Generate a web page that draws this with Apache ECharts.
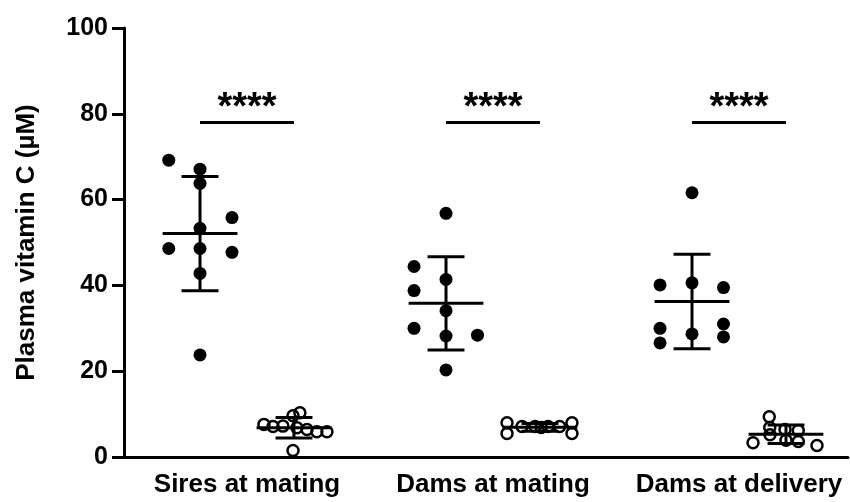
<!DOCTYPE html>
<html><head><meta charset="utf-8">
<script src="https://cdn.jsdelivr.net/npm/echarts@6/dist/echarts.min.js"></script>
<style>html,body{margin:0;padding:0;background:#fff}#c{width:850px;height:502px}</style>
</head><body><div id="c"></div>
<script>
// ---- data ----
const categories = ['Sires at mating', 'Dams at mating', 'Dams at delivery'];
const yTicks = [0, 20, 40, 60, 80, 100];
const sigLabel = '****';
const sigLevel = [78, 78, 78];

// filled circles (left column of each group)
const filledSires = [69.2, 67.1, 63.8, 55.8, 53.3, 48.6, 48.6, 47.7, 42.8, 23.8];
const filledDamsMating = [56.8, 44.4, 41.4, 38.8, 34.1, 30.0, 28.2, 28.4, 20.3];
const filledDamsDelivery = [61.6, 40.1, 40.6, 39.5, 30.0, 31.0, 28.7, 26.6, 28.0];
// open circles (right column of each group)
const openSires = [10.3, 9.6, 7.6, 7.1, 7.2, 6.8, 6.4, 5.9, 5.9, 1.5];
const openDamsMating = [8.0, 5.5, 7.1, 7.1, 7.1, 7.1, 8.0, 5.5, 6.9];
const openDamsDelivery = [9.4, 6.9, 6.4, 6.2, 5.2, 3.9, 3.6, 3.3, 2.7];

// horizontal scatter offsets of the points (fraction of group spacing)
const jitterFilledSires = [-0.127, 0, 0, 0.13, 0, -0.127, 0, 0.13, 0, 0];
const jitterFilledDamsMating = [0, -0.13, 0, -0.13, 0, -0.13, 0, 0.128, 0];
const jitterFilledDamsDelivery = [0, -0.13, 0, 0.128, -0.13, 0.128, 0, -0.13, 0.128];
const jitterOpenSires = [0.024, -0.004, -0.122, -0.085, -0.045, 0.012, 0.053, 0.093, 0.134, -0.004];
const jitterOpenDamsMating = [-0.134, -0.134, -0.073, -0.02, 0.033, 0.08, 0.13, 0.13, 0.005];
const jitterOpenDamsDelivery = [-0.068, -0.066, -0.004, 0.05, -0.065, 0.0, 0.05, -0.134, 0.126];

// ---- layout helpers ----
const colOffset = 0.191;   // column offset from group centre
const groupCentre = i => i + 0.5;
const filledSets = [filledSires, filledDamsMating, filledDamsDelivery];
const openSets = [openSires, openDamsMating, openDamsDelivery];
const filledJit = [jitterFilledSires, jitterFilledDamsMating, jitterFilledDamsDelivery];
const openJit = [jitterOpenSires, jitterOpenDamsMating, jitterOpenDamsDelivery];

function pts(sets, jits, side) {
  const out = [];
  sets.forEach((arr, g) => arr.forEach((v, k) => out.push([groupCentre(g) + side * colOffset + jits[g][k], v])));
  return out;
}
function meanSd(arr) {
  const m = arr.reduce((a, b) => a + b, 0) / arr.length;
  const s = Math.sqrt(arr.reduce((a, b) => a + (b - m) * (b - m), 0) / (arr.length - 1));
  return [m, s];
}
const summary = [];
filledSets.forEach((arr, g) => { const [m, s] = meanSd(arr); summary.push([groupCentre(g) - colOffset, m, s]); });
openSets.forEach((arr, g) => { const [m, s] = meanSd(arr); summary.push([groupCentre(g) + colOffset, m, s]); });

const FONT = 'Liberation Sans, Arial, sans-serif';
const chart = echarts.init(document.getElementById('c'));
chart.setOption({
  animation: false,
  backgroundColor: '#fff',
  grid: { left: 124, right: 2, top: 28, bottom: 45, outerBoundsMode: 'none' },
  xAxis: {
    type: 'value', min: 0, max: 724 / 246,
    axisLine: { show: true, lineStyle: { color: '#000', width: 3 } },
    axisTick: { show: false },
    splitLine: { show: false },
    axisLabel: {
      customValues: categories.map((c, i) => groupCentre(i)),
      formatter: v => categories[Math.round(v - 0.5)] || '',
      color: '#000', fontFamily: FONT, fontWeight: 'bold', fontSize: 26, margin: 15
    }
  },
  yAxis: {
    type: 'value', min: 0, max: 100, interval: 20,
    name: 'Plasma vitamin C (µM)', nameLocation: 'middle', nameGap: 84,
    nameTextStyle: { color: '#000', fontFamily: FONT, fontWeight: 'bold', fontSize: 26 },
    axisLine: { show: true, lineStyle: { color: '#000', width: 3 } },
    axisTick: { show: true, length: 12, lineStyle: { color: '#000', width: 3 }, customValues: yTicks },
    splitLine: { show: false },
    axisLabel: { customValues: yTicks, color: '#000', fontFamily: FONT, fontWeight: 'bold', fontSize: 25, margin: 16 }
  },
  series: [
    {
      type: 'scatter', data: pts(filledSets, filledJit, -1), symbol: 'circle', symbolSize: 13,
      itemStyle: { color: '#000', opacity: 1 }, z: 2
    },
    {
      type: 'scatter', data: pts(openSets, openJit, 1), symbol: 'circle', symbolSize: 11,
      itemStyle: { color: 'rgba(0,0,0,0)', borderColor: '#000', borderWidth: 2.5, opacity: 1 }, z: 2
    },
    {
      type: 'custom', z: 3, data: summary,
      renderItem: (params, api) => {
        const x = api.value(0), m = api.value(1), s = api.value(2);
        const halfW = 0.152, capW = 0.075;
        const p = (a, b) => api.coord([a, b]);
        const st = { stroke: '#000', lineWidth: 3, fill: null };
        const ln = (a, b) => ({ type: 'line', shape: { x1: a[0], y1: a[1], x2: b[0], y2: b[1] }, style: st });
        return {
          type: 'group', children: [
            ln(p(x - halfW, m), p(x + halfW, m)),
            ln(p(x, m - s), p(x, m + s)),
            ln(p(x - capW, m + s), p(x + capW, m + s)),
            ln(p(x - capW, m - s), p(x + capW, m - s))
          ]
        };
      }
    },
    {
      type: 'custom', z: 3, data: sigLevel.map((v, i) => [i, v]),
      renderItem: (params, api) => {
        const g = api.value(0), y = api.value(1);
        const a = api.coord([groupCentre(g) - colOffset, y]);
        const b = api.coord([groupCentre(g) + colOffset, y]);
        return {
          type: 'group', children: [
            { type: 'line', shape: { x1: a[0], y1: a[1], x2: b[0], y2: b[1] }, style: { stroke: '#000', lineWidth: 3 } },
            { type: 'text', x: (a[0] + b[0]) / 2, y: a[1] - 14,
              style: { text: sigLabel, fill: '#000', font: 'bold 38px ' + FONT, align: 'center', verticalAlign: 'middle' } }
          ]
        };
      }
    }
  ]
});
</script></body></html>
